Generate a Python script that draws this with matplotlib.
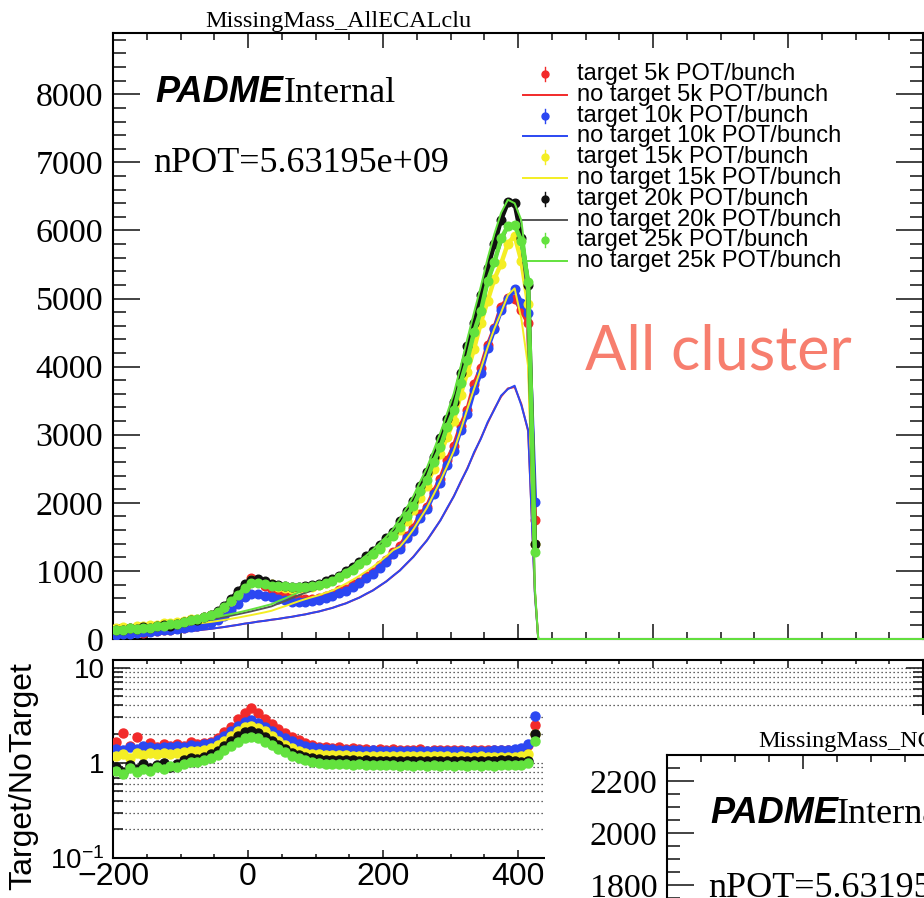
import numpy as np
import matplotlib
matplotlib.use('Agg')
import matplotlib.pyplot as plt
from matplotlib.ticker import MultipleLocator, FixedLocator, FixedFormatter, NullFormatter
from matplotlib.patches import Rectangle

W, H = 924, 898
plt.rcParams['mathtext.fontset'] = 'custom'
plt.rcParams['mathtext.rm'] = 'Liberation Sans'

SERIF = 'Liberation Serif'
SANS = 'Liberation Sans'

# 10-unit bins of missing mass, -200 .. 430
edges = np.arange(-200, 431, 10)
centers = edges[:-1] + 5
x_end = 1000

# no-target reference histograms (counts per bin)
notgt_5k = [45, 50, 55, 60, 66, 72, 78, 85, 92, 100,
            108, 117, 127, 138, 150, 163, 177, 192, 208, 225,
            240, 255, 268, 282, 296, 311, 327, 344, 363, 383,
            405, 430, 458, 490, 525, 565, 610, 660, 715, 778,
            848, 925, 1010, 1105, 1210, 1325, 1450, 1590, 1745, 1915,
            2100, 2300, 2510, 2730, 2950, 3170, 3380, 3560, 3680, 3700,
            3450, 3050, 700]
notgt_10k = [44, 51, 54, 61, 65, 73, 77, 86, 91, 101,
             107, 118, 126, 139, 149, 164, 176, 193, 207, 226,
             238, 256, 267, 284, 295, 313, 326, 346, 361, 385,
             403, 432, 456, 493, 522, 568, 607, 664, 712, 782,
             845, 930, 1005, 1110, 1205, 1332, 1445, 1598, 1740, 1925,
             2095, 2310, 2500, 2745, 2940, 3185, 3370, 3575, 3670, 3720,
             3430, 3070, 650]
notgt_15k = [132, 139, 143, 151, 157, 164, 171, 179, 188, 196,
             206, 215, 227, 239, 251, 265, 281, 297, 314, 333,
             352, 372, 392, 415, 450, 482, 519, 554, 586, 615,
             643, 679, 711, 760, 812, 868, 928, 992, 1061, 1136,
             1217, 1306, 1356, 1475, 1609, 1769, 1926, 2122, 2321, 2539,
             2765, 3064, 3378, 3677, 3968, 4282, 4558, 4795, 5050, 5150,
             4700, 4000, 700]
notgt_20k = [153, 160, 166, 174, 181, 190, 198, 207, 217, 227,
             238, 249, 262, 276, 291, 307, 325, 343, 364, 385,
             407, 431, 455, 480, 521, 558, 600, 642, 679, 711,
             744, 786, 823, 879, 939, 1004, 1074, 1149, 1228, 1316,
             1409, 1511, 1650, 1790, 1950, 2143, 2333, 2571, 2810, 3076,
             3352, 3714, 4095, 4457, 4810, 5190, 5524, 5810, 6048, 6095,
             5780, 4952, 700]
notgt_25k = [164, 171, 178, 186, 194, 202, 212, 222, 232, 243,
             254, 266, 281, 295, 311, 328, 347, 367, 388, 411,
             435, 460, 486, 512, 557, 596, 641, 685, 725, 760,
             795, 840, 880, 939, 1004, 1073, 1147, 1227, 1312, 1406,
             1505, 1615, 1770, 1925, 2100, 2310, 2515, 2770, 3030, 3315,
             3610, 4000, 4410, 4800, 5180, 5590, 5950, 6260, 6450, 6400,
             6150, 5300, 750]

# target / no-target ratio per bin
ratio_5k = [1.66, 2.03, 1.51, 1.87, 1.4, 1.61, 1.46, 1.56, 1.51, 1.56,
            1.51, 1.66, 1.56, 1.61, 1.66, 1.82, 2.08, 2.4, 2.85, 3.35,
            3.75, 3.35, 2.9, 2.55, 2.24, 2.03, 1.87, 1.72, 1.61, 1.54,
            1.48, 1.46, 1.44, 1.46, 1.4, 1.42, 1.38, 1.4, 1.37, 1.39,
            1.36, 1.38, 1.35, 1.37, 1.35, 1.38, 1.34, 1.36, 1.35, 1.37,
            1.35, 1.36, 1.34, 1.37, 1.35, 1.36, 1.35, 1.37, 1.36, 1.35,
            1.4, 1.52, 2.5]
ratio_10k = [1.4, 1.35, 1.46, 1.4, 1.51, 1.46, 1.44, 1.48, 1.46, 1.51,
             1.48, 1.54, 1.51, 1.56, 1.61, 1.72, 1.92, 2.18, 2.45, 2.7,
             2.8, 2.6, 2.39, 2.18, 1.98, 1.82, 1.68, 1.58, 1.51, 1.46,
             1.42, 1.4, 1.38, 1.37, 1.36, 1.35, 1.35, 1.34, 1.35, 1.33,
             1.33, 1.34, 1.32, 1.33, 1.32, 1.33, 1.32, 1.33, 1.32, 1.33,
             1.32, 1.33, 1.32, 1.33, 1.33, 1.34, 1.35, 1.35, 1.36, 1.38,
             1.44, 1.56, 3.1]
ratio_15k = [1.18, 1.23, 1.12, 1.28, 1.2, 1.26, 1.23, 1.28, 1.25, 1.28,
             1.31, 1.34, 1.32, 1.37, 1.42, 1.52, 1.69, 1.9, 2.14, 2.35,
             2.45, 2.33, 2.14, 1.93, 1.71, 1.55, 1.42, 1.34, 1.28, 1.25,
             1.23, 1.22, 1.21, 1.2, 1.2, 1.19, 1.19, 1.18, 1.18, 1.18,
             1.18, 1.17, 1.18, 1.17, 1.18, 1.17, 1.17, 1.18, 1.17, 1.17,
             1.16, 1.17, 1.16, 1.16, 1.17, 1.16, 1.16, 1.15, 1.15, 1.15,
             1.18, 1.23, 2.0]
ratio_20k = [0.9, 0.8, 0.95, 0.85, 0.98, 0.88, 0.95, 1.0, 0.9, 0.97,
             1.07, 1.12, 1.09, 1.16, 1.23, 1.34, 1.5, 1.71, 1.93, 2.09,
             2.14, 2.05, 1.87, 1.69, 1.52, 1.39, 1.28, 1.2, 1.14, 1.11,
             1.09, 1.08, 1.07, 1.06, 1.07, 1.06, 1.05, 1.06, 1.05, 1.05,
             1.05, 1.04, 1.05, 1.05, 1.04, 1.05, 1.05, 1.04, 1.05, 1.05,
             1.04, 1.05, 1.05, 1.04, 1.05, 1.05, 1.05, 1.06, 1.06, 1.05,
             1.02, 1.05, 2.0]
ratio_25k = [0.82, 0.76, 0.88, 0.8, 0.86, 0.82, 0.9, 0.85, 0.92, 0.9,
             0.98, 1.03, 1.02, 1.08, 1.13, 1.21, 1.35, 1.51, 1.67, 1.81,
             1.88, 1.8, 1.67, 1.53, 1.4, 1.3, 1.19, 1.11, 1.06, 1.03,
             1.0, 0.98, 0.97, 0.97, 0.96, 0.95, 0.96, 0.94, 0.95, 0.94,
             0.95, 0.94, 0.93, 0.94, 0.93, 0.94, 0.93, 0.94, 0.93, 0.94,
             0.93, 0.94, 0.93, 0.94, 0.93, 0.94, 0.93, 0.94, 0.94, 0.95,
             0.95, 0.99, 1.7]

intensities = ['5k', '10k', '15k', '20k', '25k']
notgt = [notgt_5k, notgt_10k, notgt_15k, notgt_20k, notgt_25k]
ratios = [ratio_5k, ratio_10k, ratio_15k, ratio_20k, ratio_25k]
mk_colors = ['#f22a2a', '#2b47f2', '#f4ee24', '#111111', '#63e23e']
ln_colors = ['#f22a2a', '#2b47f2', '#f4ee24', '#555555', '#63e23e']

fig = plt.figure(figsize=(W / 100, H / 100), dpi=100)


def rect(x0, y0, x1, y1):
    # pixel box (top-left origin) -> figure fraction
    return [x0 / W, 1 - y1 / H, (x1 - x0) / W, (y1 - y0) / H]


def style_axes(ax):
    for s in ax.spines.values():
        s.set_linewidth(1.5)
    ax.tick_params(which='both', direction='in', top=True, right=True,
                   width=1.2, color='#222222')


# ---- upper pad: spectra ----
ax = fig.add_axes(rect(113, 33, 923, 639))
style_axes(ax)
ax.set_xlim(-200, x_end)
ax.set_ylim(0, 8900)
ax.xaxis.set_major_locator(MultipleLocator(200))
ax.xaxis.set_minor_locator(MultipleLocator(50))
ax.yaxis.set_major_locator(MultipleLocator(1000))
ax.yaxis.set_minor_locator(MultipleLocator(200))
ax.tick_params(axis='y', which='major', length=19.5, pad=7)
ax.tick_params(axis='y', which='minor', length=9.5)
ax.tick_params(axis='x', which='major', length=11)
ax.tick_params(axis='x', which='minor', length=5)
ax.tick_params(labelbottom=False)
for lab in ax.get_yticklabels():
    lab.set_fontfamily(SERIF)
    lab.set_fontsize(24.5)

for i in range(5):
    n = np.array(notgt[i], dtype=float)
    t = n * np.array(ratios[i])
    # target: dense markers joined into a band
    ax.plot(centers, t, '-', lw=3.2, color=mk_colors[i], zorder=3 + 2 * i,
            solid_capstyle='round')
    ax.plot(centers, t, 'o', ms=6.2, color=mk_colors[i], mec=mk_colors[i],
            zorder=3 + 2 * i)
    # no target: outline, running on along zero to the end of the axis
    xs = np.concatenate([centers, [edges[-1], x_end]])
    ys = np.concatenate([n, [0, 0]])
    ax.plot(xs, ys, '-', color=ln_colors[i], lw=1.4, zorder=4 + 2 * i,
            clip_on=False)

# ---- lower pad: ratio ----
ax_r = fig.add_axes(rect(113, 660, 923, 858))
style_axes(ax_r)
ax_r.set_xlim(-200, x_end)
ax_r.set_yscale('log')
ax_r.set_ylim(0.1, 12)
ax_r.xaxis.set_major_locator(FixedLocator(np.arange(-200, 1001, 200)))
ax_r.xaxis.set_major_formatter(FixedFormatter(['\u2212200', '0', '200', '400', '', '', '']))
ax_r.xaxis.set_minor_locator(MultipleLocator(50))
ax_r.yaxis.set_major_locator(FixedLocator([0.1, 1, 10]))
ax_r.yaxis.set_major_formatter(FixedFormatter([r'$\mathregular{10^{-1}}$', '1', '10']))
minor_r = [0.2, 0.3, 0.4, 0.5, 0.6, 0.7, 0.8, 0.9, 2, 3, 4, 5, 6, 7, 8, 9]
ax_r.yaxis.set_minor_locator(FixedLocator(minor_r))
ax_r.yaxis.set_minor_formatter(NullFormatter())
ax_r.tick_params(axis='y', which='major', length=12, pad=6)
ax_r.tick_params(axis='y', which='minor', length=7)
ax_r.tick_params(axis='x', which='major', length=6, pad=3)
ax_r.tick_params(axis='x', which='minor', length=3)
for lab in ax_r.get_yticklabels():
    lab.set_fontfamily(SANS)
    lab.set_fontsize(20)
for lab in ax_r.get_xticklabels():
    lab.set_fontfamily(SANS)
    lab.set_fontsize(23)
for yv in minor_r + [1, 10]:
    ax_r.axhline(yv, color='#333333', lw=0.9, ls=(0, (1, 2.2)), zorder=1)

for i in range(5):
    r = np.array(ratios[i])
    ax_r.plot(centers, r, 'o', ms=6.5, color=mk_colors[i], mec=mk_colors[i],
              zorder=3 + i)

# ---- drawing layer in pixel coordinates ----
cv = fig.add_axes([0, 0, 1, 1], zorder=1)
cv.set_xlim(0, W)
cv.set_ylim(H, 0)
cv.axis('off')
cv.patch.set_alpha(0)

cv.text(205, 27, 'MissingMass_AllECALclu', family=SERIF, fontsize=17.5,
        va='baseline', ha='left')
cv.text(155, 102, 'PADME', family=SANS, weight='bold', style='italic',
        fontsize=26, va='baseline')
cv.text(284, 102, 'Internal', family=SERIF, fontsize=26, va='baseline')
cv.text(153, 172, 'nPOT=5.63195e+09', family=SERIF, fontsize=26, va='baseline')

# legend
row = 0
for i, tag in enumerate(intensities):
    for kind in ('target', 'no target'):
        y = 74 + 20.8 * row
        if kind == 'target':
            cv.plot([545, 545], [y - 7, y + 7], color=mk_colors[i], lw=1.0)
            cv.plot(545, y, 'o', ms=5, color=mk_colors[i], mec=mk_colors[i])
        else:
            cv.plot([523, 567], [y, y], color=ln_colors[i], lw=1.4)
        cv.text(577, y, f'{kind} {tag} POT/bunch', family=SANS, fontsize=17,
                va='center', ha='left')
        row += 1

cv.text(585, 352, 'All cluster', family='Lato', fontsize=44, color='#f77e6e',
        va='center', ha='left')
cv.text(23, 776, 'Target/NoTarget', family=SANS, fontsize=23, rotation=90,
        va='center', ha='center')

# next slide panel pasted over the corner
cv.add_patch(Rectangle((545, 715), W - 545, H - 715, facecolor='white',
                       edgecolor='none', zorder=20))

ax_o = fig.add_axes([667 / W, 1 - 1353 / H, 816 / W, 598 / H], zorder=2)
style_axes(ax_o)
ax_o.set_xlim(-200, x_end)
ax_o.set_ylim(0, 2300)
ax_o.xaxis.set_major_locator(MultipleLocator(200))
ax_o.xaxis.set_minor_locator(MultipleLocator(50))
ax_o.tick_params(axis='y', which='major', length=19.5, pad=7)
ax_o.tick_params(axis='y', which='minor', length=9.5)
ax_o.tick_params(axis='x', which='major', length=10)
ax_o.tick_params(axis='x', which='minor', length=5)
ax_o.tick_params(labelbottom=False)
ax_o.set_yticks(np.arange(1800, 2201, 200))
ax_o.set_yticklabels(['1800', '2000', '2200'])
ax_o.yaxis.set_minor_locator(MultipleLocator(50))
for lab in ax_o.get_yticklabels():
    lab.set_fontfamily(SERIF)
    lab.set_fontsize(24.5)

top = fig.add_axes([0, 0, 1, 1], zorder=3)
top.set_xlim(0, W)
top.set_ylim(H, 0)
top.axis('off')
top.patch.set_alpha(0)
top.text(758, 747, 'MissingMass_NClu', family=SERIF, fontsize=17.5,
         va='baseline', ha='left')
top.text(710, 823, 'PADME', family=SANS, weight='bold', style='italic',
         fontsize=26, va='baseline')
top.text(837, 823, 'Internal', family=SERIF, fontsize=26, va='baseline')
top.text(708, 897, 'nPOT=5.63195e+09', family=SERIF, fontsize=26, va='baseline')

fig.savefig('out.png', dpi=100)
